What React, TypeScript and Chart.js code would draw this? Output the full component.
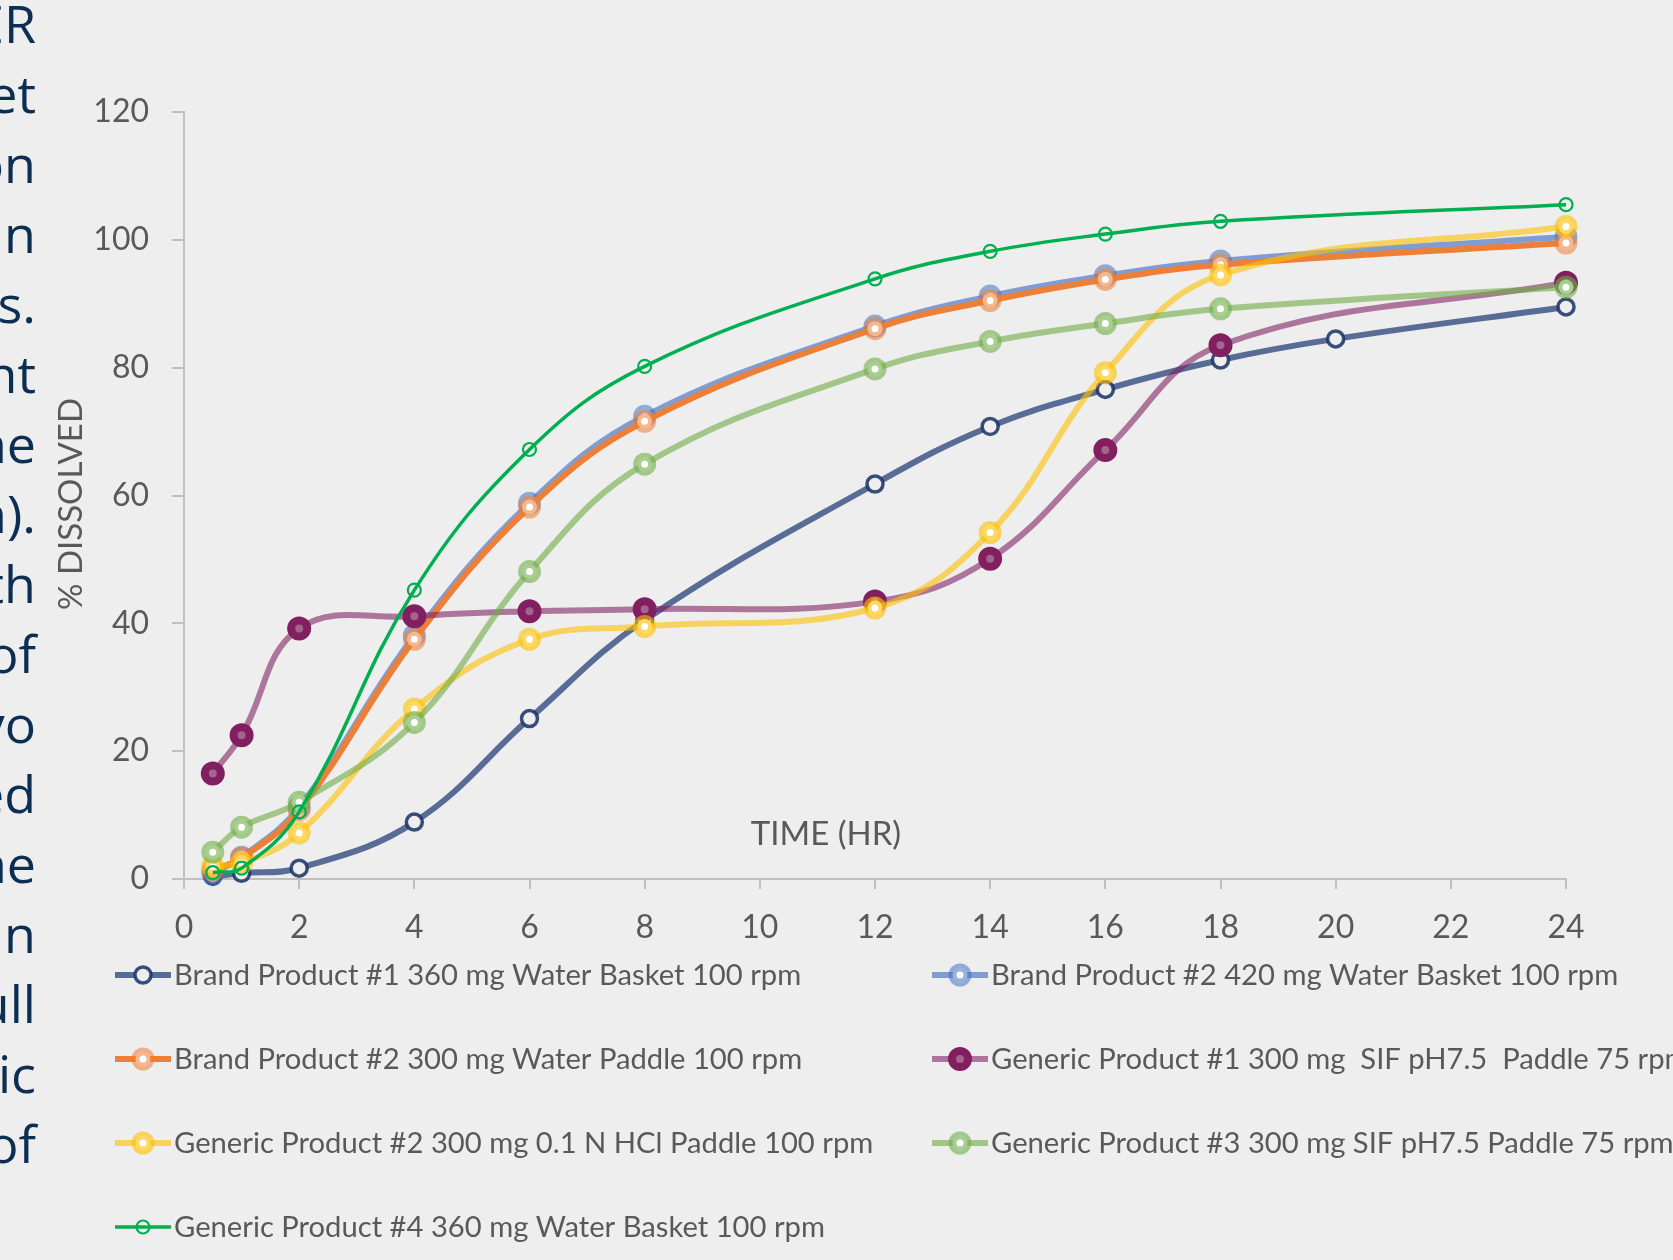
import React, { useEffect, useRef } from 'react';
import { Chart, registerables } from 'chart.js';

Chart.register(...registerables);

// ---------- data ----------
const TIMES = [0.5, 1, 2, 4, 6, 8, 12, 14, 16, 18, 24];
const TIMES_BRAND1 = [0.5, 1, 2, 4, 6, 8, 12, 14, 16, 18, 20, 24];

const BRAND1_360_WATER_BASKET = [0.4, 0.9, 1.7, 8.9, 25.1, 40.5, 61.8, 70.8, 76.6, 81.2, 84.5, 89.5];
const BRAND2_420_WATER_BASKET = [0.9, 3.4, 11.2, 38.1, 58.8, 72.4, 86.5, 91.2, 94.4, 96.7, 100.5];
const BRAND2_300_WATER_PADDLE = [1.4, 3.3, 10.8, 37.5, 58.2, 71.6, 86.1, 90.5, 93.8, 96.1, 99.5];
const GENERIC1_300_SIF_PADDLE = [16.5, 22.5, 39.2, 41.1, 41.9, 42.2, 43.4, 50.1, 67.1, 83.5, 93.3];
const GENERIC2_300_HCL_PADDLE = [2.0, 2.5, 7.2, 26.6, 37.5, 39.5, 42.4, 54.2, 79.2, 94.5, 102.1];
const GENERIC3_300_SIF_PADDLE = [4.2, 8.1, 12.0, 24.5, 48.1, 64.9, 79.8, 84.1, 86.9, 89.2, 92.6];
const GENERIC4_360_WATER_BASKET = [1.0, 1.7, 10.5, 45.2, 67.2, 80.2, 93.9, 98.2, 100.9, 102.9, 105.5];

const SERIES_LABELS = [
  'Brand Product #1 360 mg Water Basket 100 rpm',
  'Brand Product #2 420 mg Water Basket 100 rpm',
  'Brand Product #2 300 mg Water Paddle 100 rpm',
  'Generic Product #1 300 mg  SIF pH7.5  Paddle 75 rpm',
  'Generic Product #2 300 mg 0.1 N HCl Paddle 100 rpm',
  'Generic Product #3 300 mg SIF pH7.5 Paddle 75 rpm',
  'Generic Product #4 360 mg Water Basket 100 rpm',
];
const SERIES_TIMES = [TIMES_BRAND1, TIMES, TIMES, TIMES, TIMES, TIMES, TIMES];
const SERIES_VALUES = [
  BRAND1_360_WATER_BASKET,
  BRAND2_420_WATER_BASKET,
  BRAND2_300_WATER_PADDLE,
  GENERIC1_300_SIF_PADDLE,
  GENERIC2_300_HCL_PADDLE,
  GENERIC3_300_SIF_PADDLE,
  GENERIC4_360_WATER_BASKET,
];

const X_TITLE = 'TIME (HR)';
const Y_TITLE = '% DISSOLVED';
const X_MIN = 0, X_MAX = 24, X_STEP = 2;
const Y_MIN = 0, Y_MAX = 120, Y_STEP = 20;

const LEFT_TEXT = ['ER', 'et', 'on', 'in', 's.', 'nt', 'ne', 'n).', 'th', 'of', 'vo', 'ed', 'ne', 'in', 'ull', 'ic', 'of'];

// ---------- styles ----------
const FONT = 'Lato';
const TEXT_GRAY = '#595959';
const AXIS_GRAY = '#BFBFBF';

const STYLES = [
  { line: 'rgba(38,64,120,0.75)', width: 6, r: 8, bw: 3.5, pb: 'rgba(25,48,100,0.85)', pf: '#EEEEEE' },
  { line: 'rgba(68,114,196,0.65)', width: 6, r: 7.5, bw: 8, pb: 'rgba(68,114,196,0.55)', pf: '#FFFFFF' },
  { line: '#ED7F36', width: 6, r: 7.5, bw: 8, pb: 'rgba(237,125,49,0.55)', pf: '#FFFFFF' },
  { line: 'rgba(126,30,94,0.58)', width: 6, r: 8, bw: 8, pb: '#821F60', pf: '#A4648D' },
  { line: 'rgba(255,192,0,0.6)', width: 6, r: 7.5, bw: 8, pb: 'rgba(255,192,0,0.62)', pf: '#FFFFFF' },
  { line: 'rgba(112,173,71,0.61)', width: 6, r: 7.5, bw: 8, pb: 'rgba(112,173,71,0.6)', pf: '#FFFFFF' },
  { line: '#00B050', width: 3.5, r: 6.5, bw: 2.2, pb: '#00B050', pf: 'rgba(0,0,0,0)' },
];

const overlayPlugin = {
  id: 'overlay',
  afterDraw(chart: any) {
    const ctx = chart.ctx as CanvasRenderingContext2D;
    ctx.save();
    // axis titles
    ctx.fillStyle = TEXT_GRAY;
    ctx.font = `33px ${FONT}`;
    ctx.textAlign = 'center';
    ctx.textBaseline = 'alphabetic';
    ctx.fillText(X_TITLE, 826, 845);
    ctx.save();
    ctx.translate(82, 504);
    ctx.rotate(-Math.PI / 2);
    ctx.fillText(Y_TITLE, 0, 0);
    ctx.restore();

    // legend (two columns)
    const colX = [115, 932];
    const rowY = [975, 1059, 1143, 1227];
    const lineLen = 56;
    ctx.font = `29.2px ${FONT}`;
    ctx.textAlign = 'left';
    chart.data.datasets.forEach((ds: any, i: number) => {
      const st = STYLES[i];
      const x0 = colX[i % 2];
      const y = rowY[Math.floor(i / 2)];
      ctx.beginPath();
      ctx.strokeStyle = st.line;
      ctx.lineWidth = st.width;
      ctx.moveTo(x0, y);
      ctx.lineTo(x0 + lineLen, y);
      ctx.stroke();
      const cx = x0 + lineLen / 2;
      ctx.beginPath();
      ctx.arc(cx, y, st.r, 0, Math.PI * 2);
      ctx.fillStyle = st.pf;
      ctx.fill();
      ctx.lineWidth = st.bw;
      ctx.strokeStyle = st.pb;
      ctx.stroke();
      ctx.fillStyle = TEXT_GRAY;
      ctx.fillText(ds.label, x0 + lineLen + 3, y + 10);
    });
    ctx.restore();
  },
};

export default function App() {
  const canvasRef = useRef<HTMLCanvasElement | null>(null);

  useEffect(() => {
    document.body.style.margin = '0';
    document.body.style.background = '#EEEEEE';
    const canvas = canvasRef.current;
    if (!canvas) return;
    const n = SERIES_LABELS.length;
    const datasets = SERIES_LABELS.map((label, i) => {
      const st = STYLES[i];
      return {
        label,
        data: SERIES_TIMES[i].map((t, j) => ({ x: t, y: SERIES_VALUES[i][j] })),
        borderColor: st.line,
        borderWidth: st.width,
        backgroundColor: st.line,
        pointRadius: st.r,
        pointBorderWidth: st.bw,
        pointBorderColor: st.pb,
        pointBackgroundColor: st.pf,
        tension: 0.4,
        fill: false,
        clip: false,
        order: n - i,
      };
    });
    const chart = new Chart(canvas, {
      type: 'line',
      data: { datasets } as any,
      plugins: [overlayPlugin],
      options: {
        responsive: false,
        animation: false,
        events: [],
        layout: { padding: { top: 112, right: 107, bottom: 0, left: 0 } },
        plugins: { legend: { display: false }, tooltip: { enabled: false } },
        scales: {
          x: {
            type: 'linear',
            min: X_MIN,
            max: X_MAX,
            ticks: {
              stepSize: X_STEP,
              color: TEXT_GRAY,
              font: { family: FONT, size: 32 },
              padding: 19,
              maxRotation: 0,
              autoSkip: false,
            },
            grid: { drawOnChartArea: false, drawTicks: true, tickLength: 10, color: AXIS_GRAY, lineWidth: 2 },
            border: { color: AXIS_GRAY, width: 2 },
            afterFit: (s: any) => { s.height = 381; },
          },
          y: {
            min: Y_MIN,
            max: Y_MAX,
            ticks: {
              stepSize: Y_STEP,
              color: TEXT_GRAY,
              font: { family: FONT, size: 32 },
              padding: 23,
            },
            grid: { drawOnChartArea: false, drawTicks: true, tickLength: 12, color: AXIS_GRAY, lineWidth: 2 },
            border: { color: AXIS_GRAY, width: 2 },
            afterFit: (s: any) => { s.width = 184; },
          },
        },
      } as any,
    });
    return () => chart.destroy();
  }, []);

  return (
    <div style={{ position: 'absolute', left: 0, top: 0, width: 1673, height: 1260, background: '#EEEEEE', overflow: 'hidden' }}>
      <div
        style={{
          position: 'absolute',
          left: -264,
          top: -12,
          width: 300,
          textAlign: 'right',
          fontFamily: '"Open Sans", sans-serif',
          fontSize: 52,
          lineHeight: '70px',
          color: '#0B2E52',
          whiteSpace: 'pre',
        }}
      >
        {LEFT_TEXT.map((t, i) => (
          <div key={i}>{t}</div>
        ))}
      </div>
      <canvas
        ref={canvasRef}
        width={1673}
        height={1260}
        style={{ position: 'absolute', left: 0, top: 0, width: 1673, height: 1260 }}
      />
    </div>
  );
}
